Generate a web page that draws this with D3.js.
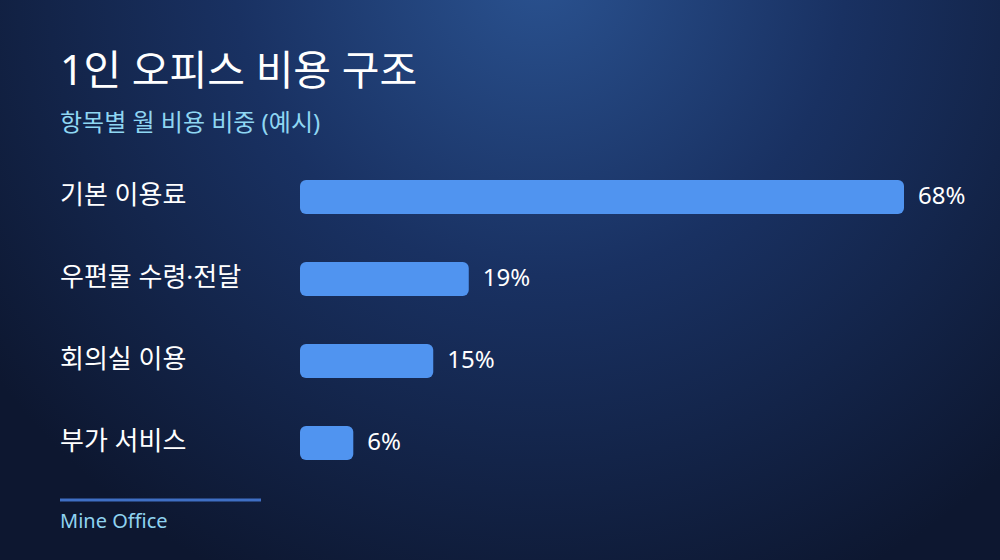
<!DOCTYPE html>
<html>
<head>
<meta charset="utf-8">
<script src="https://cdn.jsdelivr.net/npm/d3@7"></script>
<style>
  body { margin: 0; background: #0e1831; }
  svg { display: block; font-family: "Noto Sans", "Noto Sans CJK KR", sans-serif; }
</style>
</head>
<body>
<svg id="chart" width="1000" height="560"></svg>
<script>
// data
var categories = ["기본 이용료", "우편물 수령·전달", "회의실 이용", "부가 서비스"];
var shares = [68, 19, 15, 6];
var valueLabels = ["68%", "19%", "15%", "6%"];

var svg = d3.select("#chart");
var w = +svg.attr("width");
var h = +svg.attr("height");

// background
var defs = svg.append("defs");
var bg = defs.append("radialGradient")
    .attr("id", "bg")
    .attr("gradientUnits", "userSpaceOnUse")
    .attr("cx", 540).attr("cy", -30).attr("r", 680);
bg.append("stop").attr("offset", "0%").attr("stop-color", "#2a5290");
bg.append("stop").attr("offset", "45%").attr("stop-color", "#193162");
bg.append("stop").attr("offset", "100%").attr("stop-color", "#0d1730");

svg.append("rect").attr("width", w).attr("height", h).attr("fill", "url(#bg)");

// titles
svg.append("text")
    .attr("x", 60).attr("y", 85)
    .attr("fill", "#ffffff")
    .style("font-size", "41px")
    .style("font-weight", 400)
    .text("1인 오피스 비용 구조");

svg.append("text")
    .attr("x", 60).attr("y", 131)
    .attr("fill", "#8fd6f2")
    .style("font-size", "24px")
    .text("항목별 월 비용 비중 (예시)");

// scales
var xScale = d3.scaleLinear()
    .domain([0, d3.max(shares)])
    .range([300, 904]);

var yScale = d3.scaleBand()
    .domain(categories)
    .range([156, 484])
    .paddingInner(0.585)
    .paddingOuter(0.2925);

var rows = svg.selectAll("g.row")
    .data(categories)
    .enter()
    .append("g")
    .attr("class", "row");

rows.append("text")
    .attr("x", 60)
    .attr("y", function (d) { return yScale(d) + yScale.bandwidth() / 2; })
    .attr("dy", "0.02em")
    .attr("dominant-baseline", "middle")
    .attr("fill", "#ffffff")
    .style("font-size", "26px")
    .text(function (d) { return d; });

rows.append("rect")
    .attr("x", xScale(0))
    .attr("y", function (d) { return yScale(d); })
    .attr("width", function (d, i) { return xScale(shares[i]) - xScale(0); })
    .attr("height", yScale.bandwidth())
    .attr("rx", 6)
    .attr("fill", "#5094f0");

rows.append("text")
    .attr("x", function (d, i) { return xScale(shares[i]) + 14; })
    .attr("y", function (d) { return yScale(d) + yScale.bandwidth() / 2; })
    .attr("dy", "0.02em")
    .attr("dominant-baseline", "middle")
    .attr("fill", "#ffffff")
    .style("font-size", "24px")
    .text(function (d, i) { return valueLabels[i]; });

// footer
svg.append("line")
    .attr("x1", 60).attr("x2", 261)
    .attr("y1", 500).attr("y2", 500)
    .attr("stroke", "#3f6fc4")
    .attr("stroke-width", 3);

svg.append("text")
    .attr("x", 60).attr("y", 528)
    .attr("fill", "#8fd3f0")
    .style("font-size", "20px")
    .text("Mine Office");
</script>
</body>
</html>
